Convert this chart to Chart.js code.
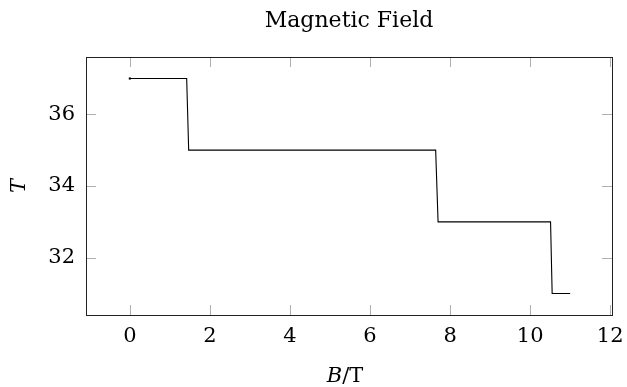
<!DOCTYPE html>
<html>
<head>
<meta charset="utf-8">
<script src="https://cdn.jsdelivr.net/npm/chart.js@4.4.0/dist/chart.umd.min.js"></script>
<style>
  html, body { margin: 0; padding: 0; background: #fff; }
  #wrap { width: 627px; height: 387px; }
</style>
</head>
<body>
<div id="wrap"><canvas id="magChart"></canvas></div>
<script>
// step data
const fieldB = [0, 1.42, 1.47, 7.64, 7.70, 10.51, 10.55, 11.0];
const tempT  = [37, 37, 35, 35, 33, 33, 31, 31];
const xTicks = [0, 2, 4, 6, 8, 10, 12];
const yTicks = [32, 34, 36];

const serif = "'DejaVu Serif', 'Liberation Serif', serif";
const fsize = 21;

// pgfplots-style ticks drawn inside the box, plus frame and the B/T label
const innerTicks = {
    id: 'innerTicks',
    afterDatasetsDraw(chart) {
        const { ctx, chartArea: a, scales } = chart;
        const len = 10;
        ctx.save();
        ctx.strokeStyle = '#b0b0b0';
        ctx.lineWidth = 1;
        ctx.beginPath();
        xTicks.forEach(v => {
            const px = Math.round(scales.x.getPixelForValue(v)) + 0.5;
            ctx.moveTo(px, a.bottom); ctx.lineTo(px, a.bottom - len);
            ctx.moveTo(px, a.top); ctx.lineTo(px, a.top + len);
        });
        yTicks.forEach(v => {
            const py = Math.round(scales.y.getPixelForValue(v)) + 0.5;
            ctx.moveTo(a.left, py); ctx.lineTo(a.left + len, py);
            ctx.moveTo(a.right, py); ctx.lineTo(a.right - len, py);
        });
        ctx.stroke();
        // frame
        ctx.strokeStyle = '#222';
        ctx.strokeRect(Math.round(a.left) + 0.5, Math.round(a.top) + 0.5,
                       Math.round(a.right - a.left), Math.round(a.bottom - a.top));

        // x axis label: italic B, upright /T
        ctx.fillStyle = '#000';
        ctx.textBaseline = 'alphabetic';
        ctx.font = 'italic ' + fsize + 'px ' + serif;
        const wB = ctx.measureText('B').width;
        ctx.font = fsize + 'px ' + serif;
        const wT = ctx.measureText('/T').width;
        const x0 = (a.left + a.right) / 2 - 4 - (wB + wT) / 2;
        ctx.font = 'italic ' + fsize + 'px ' + serif;
        ctx.fillText('B', x0, 382);
        ctx.font = fsize + 'px ' + serif;
        ctx.fillText('/T', x0 + wB, 382);
        ctx.restore();
    }
};

document.addEventListener('DOMContentLoaded', function () {
    const ctx = document.getElementById('magChart').getContext('2d');
    new Chart(ctx, {
        type: 'line',
        data: {
            datasets: [{
                data: fieldB.map((b, i) => ({ x: b, y: tempT[i] })),
                borderColor: '#000',
                borderWidth: 1.1,
                pointRadius: [1.5, 0, 0, 0, 0, 0, 0, 0],
                pointStyle: 'rect',
                pointBackgroundColor: '#000',
                pointBorderWidth: 0,
                tension: 0,
                fill: false
            }]
        },
        options: {
            responsive: true,
            maintainAspectRatio: false,
            animation: false,
            layout: { padding: { left: 0, right: 15, top: 0, bottom: 0 } },
            plugins: {
                legend: { display: false },
                tooltip: { enabled: false },
                title: {
                    display: true,
                    fullSize: false,
                    text: 'Magnetic Field',
                    color: '#000',
                    font: { family: serif, size: 22, weight: 'normal', lineHeight: 1.2 },
                    padding: { top: 8, bottom: 22.6 }
                }
            },
            scales: {
                x: {
                    type: 'linear',
                    min: -1.095,
                    max: 12.045,
                    afterBuildTicks: s => { s.ticks = xTicks.map(v => ({ value: v })); },
                    afterFit: s => { s.height = 72; s.paddingLeft = 0; s.paddingRight = 0; },
                    grid: { display: false, drawTicks: false },
                    border: { display: false },
                    ticks: {
                        color: '#000',
                        padding: 9,
                        font: { family: serif, size: fsize }
                    }
                },
                y: {
                    type: 'linear',
                    min: 30.4,
                    max: 37.6,
                    afterBuildTicks: s => { s.ticks = yTicks.map(v => ({ value: v })); },
                    afterFit: s => { s.width = 86; },
                    grid: { display: false, drawTicks: false },
                    border: { display: false },
                    ticks: {
                        color: '#000',
                        padding: 11,
                        font: { family: serif, size: fsize }
                    },
                    title: {
                        display: true,
                        text: 'T',
                        color: '#000',
                        font: { family: serif, size: fsize, style: 'italic' },
                        padding: { top: 7, bottom: 0 }
                    }
                }
            }
        },
        plugins: [innerTicks]
    });
});
</script>
</body>
</html>
